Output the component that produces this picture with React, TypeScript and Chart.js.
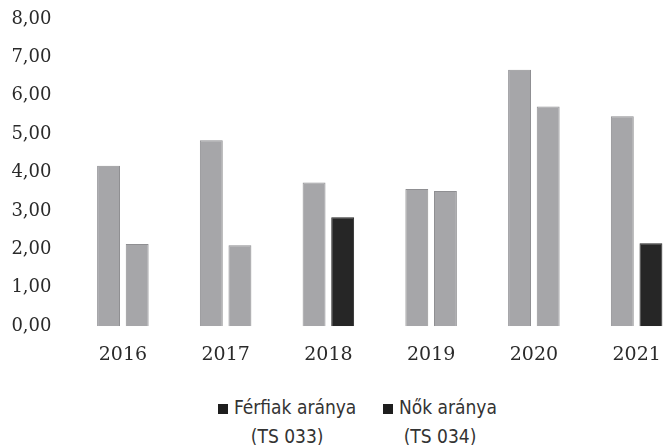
import React, { useEffect, useRef } from "react";
import { Chart, registerables } from "chart.js";

Chart.register(...registerables);

const categories = ["2016", "2017", "2018", "2019", "2020", "2021"];
const ferfiakValues = [4.18, 4.84, 3.74, 3.57, 6.68, 5.47];
const nokValues = [2.14, 2.11, 2.84, 3.52, 5.72, 2.16];
const yTickLabels = ["0,00", "1,00", "2,00", "3,00", "4,00", "5,00", "6,00", "7,00", "8,00"];
const seriesNames = [["Férfiak aránya", "(TS 033)"], ["Nők aránya", "(TS 034)"]];

const GREY = "#a6a6a9";
const GREY_BORDER = "#8f8f92";
const BLACK = "#262626";
const nokColors = [GREY, GREY, BLACK, GREY, GREY, BLACK];
const nokBorders = [GREY_BORDER, GREY_BORDER, BLACK, GREY_BORDER, GREY_BORDER, BLACK];

export default function App() {
  const ref = useRef<HTMLCanvasElement | null>(null);

  useEffect(() => {
    if (!ref.current) return;
    const chart = new Chart(ref.current, {
      type: "bar",
      data: {
        labels: categories,
        datasets: [
          {
            label: seriesNames[0].join(" "),
            data: ferfiakValues,
            backgroundColor: GREY,
            borderColor: GREY_BORDER,
            borderWidth: 1,
            barPercentage: 0.8,
            categoryPercentage: 0.557,
          },
          {
            label: seriesNames[1].join(" "),
            data: nokValues,
            backgroundColor: nokColors,
            borderColor: nokBorders,
            borderWidth: 1,
            barPercentage: 0.8,
            categoryPercentage: 0.557,
          },
        ],
      },
      options: {
        animation: false,
        responsive: false,
        maintainAspectRatio: false,
        layout: { padding: { left: 10, right: 2, top: 19, bottom: 8 } },
        plugins: { legend: { display: false }, tooltip: { enabled: false } },
        scales: {
          x: {
            grid: { display: false, drawTicks: false },
            border: { display: false },
            ticks: {
              color: "#2a2a2a",
              padding: 17,
              font: { family: "DejaVu Serif", size: 19 },
            },
          },
          y: {
            min: 0,
            max: 8,
            grid: { display: false, drawTicks: false },
            border: { display: false },
            afterFit: (s: any) => {
              s.width = 61.5;
              s.paddingTop = 0;
              s.paddingBottom = 0;
            },
            ticks: {
              stepSize: 1,
              color: "#2a2a2a",
              padding: 20,
              font: { family: "DejaVu Serif", size: 18 },
              callback: (_v: any, i: number) => yTickLabels[i],
            },
          },
        },
      },
    });
    return () => chart.destroy();
  }, []);

  const itemStyle: React.CSSProperties = {
    position: "absolute",
    top: 393,
    textAlign: "center",
    fontFamily: "'DejaVu Sans Condensed', 'DejaVu Sans'",
    fontSize: 19,
    color: "#333",
    lineHeight: "29px",
    whiteSpace: "nowrap",
  };
  const sq: React.CSSProperties = {
    display: "inline-block",
    width: 10,
    height: 10,
    background: "#1e1e1e",
    marginRight: 6,
  };

  return (
    <div
      style={{
        position: "absolute",
        left: 0,
        top: 0,
        width: 664,
        height: 445,
        overflow: "hidden",
        background: "#fff",
      }}
    >
      <canvas ref={ref} width={690} height={391} style={{ display: "block", width: 690, height: 391 }} />
      <div style={{ ...itemStyle, left: 218 }}>
        <div><span style={sq} />{seriesNames[0][0]}</div>
        <div>{seriesNames[0][1]}</div>
      </div>
      <div style={{ ...itemStyle, left: 383 }}>
        <div><span style={sq} />{seriesNames[1][0]}</div>
        <div>{seriesNames[1][1]}</div>
      </div>
    </div>
  );
}
